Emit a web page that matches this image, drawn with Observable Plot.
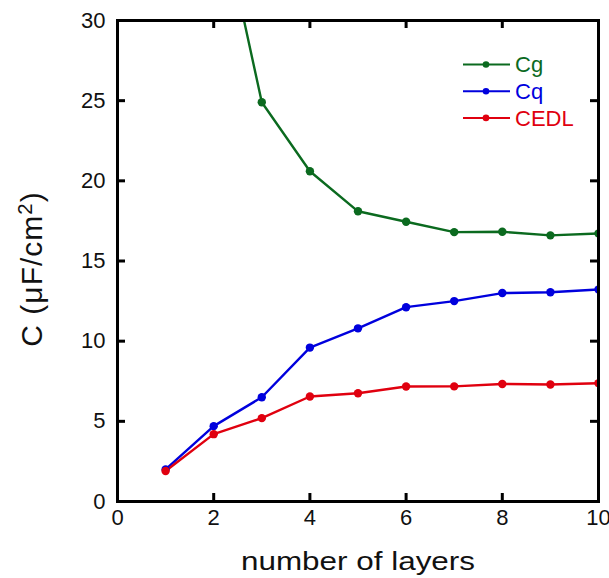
<!DOCTYPE html>
<html>
<head>
<meta charset="utf-8">
<script src="https://cdn.jsdelivr.net/npm/d3@7"></script>
<script src="https://cdn.jsdelivr.net/npm/@observablehq/plot@0.6"></script>
<style>
  html, body { margin: 0; padding: 0; background: #fff; }
  #chart { width: 609px; height: 578px; }
  svg { font-family: "Liberation Sans", Arial, sans-serif; }
</style>
</head>
<body>
<div id="chart"></div>
<script>
const layers = [1, 2, 3, 4, 5, 6, 7, 8, 9, 10];
const Cg   = [60, 38.7, 24.9, 20.6, 18.1, 17.45, 16.8, 16.82, 16.6, 16.72];
const Cq   = [2.0, 4.7, 6.5, 9.6, 10.8, 12.12, 12.5, 13.0, 13.05, 13.22];
const CEDL = [1.9, 4.2, 5.2, 6.55, 6.75, 7.17, 7.18, 7.33, 7.3, 7.38];
const seriesNames = ["Cg", "Cq", "CEDL"];
const seriesColors = ["#0b6a1f", "#0000dd", "#e0000f"];
const xTicks = [0, 2, 4, 6, 8, 10];
const yTicks = [0, 5, 10, 15, 20, 25, 30];

const seriesValues = [Cg, Cq, CEDL];
const rows = seriesNames.flatMap((name, i) =>
  layers.map((l, j) => ({series: name, x: l, y: seriesValues[i][j]})));

const W = 609, H = 578;
const mLeft = 117, mRight = 11, mTop = 20, mBottom = 77;
const tickLenX = 8 / ((W - mLeft - mRight) / 10);
const tickLenY = 8 / ((H - mTop - mBottom) / 30);

const plot = Plot.plot({
  width: W, height: H,
  marginLeft: mLeft, marginRight: mRight, marginTop: mTop, marginBottom: mBottom,
  x: {domain: [0, 10]},
  y: {domain: [0, 30]},
  color: {domain: seriesNames, range: seriesColors},
  style: {fontFamily: "Liberation Sans, Arial, sans-serif", background: "#fff"},
  marks: [
    Plot.line(rows, {x: "x", y: "y", stroke: "series", z: "series", strokeWidth: 2.4, clip: true}),
    Plot.dot(rows, {x: "x", y: "y", fill: "series", r: 4.2, clip: true}),
    Plot.ruleY(yTicks, {x1: 0, x2: tickLenX, strokeWidth: 3}),
    Plot.ruleY(yTicks, {x1: 10 - tickLenX, x2: 10, strokeWidth: 3}),
    Plot.ruleX(xTicks, {y1: 0, y2: tickLenY, strokeWidth: 3}),
    Plot.ruleX(xTicks, {y1: 30 - tickLenY, y2: 30, strokeWidth: 3}),
    Plot.frame({strokeWidth: 3, stroke: "#000"}),
    Plot.axisX(xTicks, {tickSize: 0, tickPadding: 8, fontSize: 22, label: null, fill: "#111"}),
    Plot.axisY(yTicks, {tickSize: 0, tickPadding: 12, fontSize: 22, label: null, fill: "#111"}),
    Plot.text(["number of layers"], {frameAnchor: "bottom", lineAnchor: "middle", textAnchor: "middle", dy: 60, fontSize: 26, fill: "#111", className: "xlab"}),
    Plot.text(["C (μF/cm2)"], {frameAnchor: "left", lineAnchor: "middle", textAnchor: "middle", dx: -85, dy: 8, rotate: -90, fontSize: 30, fill: "#111", className: "ylab"})
  ]
});

const svg = d3.select(plot);
svg.selectAll(".xlab text").attr("textLength", 234).attr("lengthAdjust", "spacingAndGlyphs");
// superscript for the y label
svg.selectAll(".ylab text").each(function() {
  const t = d3.select(this);
  t.text(null).attr("letter-spacing", "1px");
  t.append("tspan").text("C (μF/cm");
  t.append("tspan").attr("dy", "-0.5em").attr("font-size", "0.68em").text("2");
  t.append("tspan").attr("dy", "0.34em").text(")");
});

// legend
const lg = svg.append("g").attr("class", "legend").attr("text-anchor", "start");
seriesNames.forEach((name, i) => {
  const y = 64.5 + i * 26.7;
  lg.append("line").attr("x1", 463).attr("x2", 510).attr("y1", y).attr("y2", y)
    .attr("stroke", seriesColors[i]).attr("stroke-width", 2);
  lg.append("circle").attr("cx", 486).attr("cy", y).attr("r", 3.3).attr("fill", seriesColors[i]);
  lg.append("text").attr("x", 515).attr("y", y).attr("dy", "0.36em")
    .attr("text-anchor", "start")
    .attr("font-size", 22).attr("fill", seriesColors[i]).text(name);
});

document.getElementById("chart").appendChild(plot);
</script>
</body>
</html>
